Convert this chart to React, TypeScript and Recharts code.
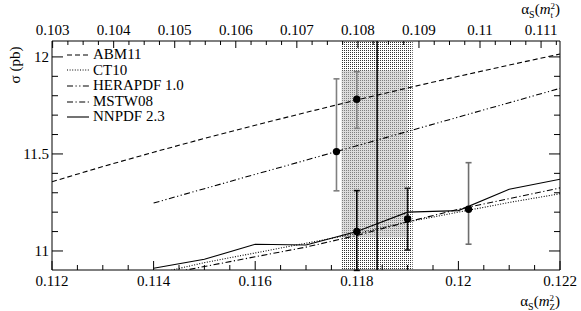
import React from 'react';
import {
  ComposedChart,
  Line,
  Scatter,
  XAxis,
  YAxis,
  ErrorBar,
  ReferenceArea,
  ReferenceLine,
  Legend,
} from 'recharts';

const FONT = '"Liberation Serif", "Times New Roman", serif';

// alpha_s(mZ^2) sampling points of the curves
const alphaFull = [0.112, 0.113, 0.114, 0.115, 0.116, 0.117, 0.118, 0.119, 0.12, 0.121, 0.122];
const alphaFrom114 = [0.114, 0.115, 0.116, 0.117, 0.118, 0.119, 0.12, 0.121, 0.122];

// sigma (pb) of each PDF set
const abm11 = [11.357, 11.435, 11.509, 11.58, 11.648, 11.714, 11.778, 11.84, 11.9, 11.958, 12.015];
const ct10 = [10.88, 10.94, 10.99, 11.04, 11.09, 11.15, 11.2, 11.25, 11.295];
const herapdf10 = [11.247, 11.321, 11.395, 11.468, 11.542, 11.616, 11.69, 11.764, 11.838];
const mstw08 = [10.87, 10.92, 10.97, 11.02, 11.08, 11.15, 11.215, 11.27, 11.325];
const nnpdf23 = [10.911, 10.957, 11.035, 11.031, 11.1, 11.2, 11.208, 11.318, 11.37];

// central predictions with uncertainties
const pointNames = ['HERAPDF 1.0', 'ABM11', 'CT10', 'NNPDF 2.3', 'MSTW08'];
const pointAlpha = [0.1176, 0.118, 0.118, 0.119, 0.1202];
const pointSigma = [11.512, 11.782, 11.1, 11.165, 11.215];
const pointLow = [11.31, 11.632, 10.9, 11.005, 11.035];
const pointHigh = [11.887, 11.924, 11.311, 11.323, 11.455];

// world average band
const bandLow = 0.1177;
const bandHigh = 0.1191;
const bandCentre = 0.1184;
const bandInnerLow = 11.07;
const bandInnerHigh = 11.93;

// axes
const bottomDomain = [0.112, 0.122];
const topDomain = [0.10299, 0.11131];
const yDomain = [10.902, 12.082];
const bottomMajorTicks = [0.112, 0.114, 0.116, 0.118, 0.12, 0.122];
const topMajorTicks = [0.103, 0.104, 0.105, 0.106, 0.107, 0.108, 0.109, 0.11, 0.111];
const leftMajorTicks = [11, 11.5, 12];

const seriesNames = ['ABM11', 'CT10', 'HERAPDF 1.0', 'MSTW08', 'NNPDF 2.3'];
const dashes: Record<string, string | undefined> = {
  ABM11: '5 3',
  CT10: '1 1.6',
  'HERAPDF 1.0': '6 2.5 1.2 2.5 1.2 2.5',
  MSTW08: '6 2.5 1.2 2.5',
  'NNPDF 2.3': undefined,
};
const errColours: Record<string, string> = {
  'HERAPDF 1.0': '#808080',
  ABM11: '#808080',
  CT10: '#000',
  'NNPDF 2.3': '#1a1a1a',
  MSTW08: '#6e6e6e',
};

const range = (start: number, stop: number, step: number) => {
  const out: number[] = [];
  const n = Math.round((stop - start) / step);
  for (let i = 0; i <= n; i++) out.push(+(start + i * step).toFixed(6));
  return out;
};
const bottomTicks = range(0.112, 0.122, 0.0005);
const topTicks = range(0.103, 0.11125, 0.00025);
const leftTicks = range(11, 12, 0.1);

const toPts = (xs: number[], ys: number[]) => xs.map((a, i) => ({ a, v: ys[i] }));
const seriesData: Record<string, { a: number; v: number }[]> = {
  ABM11: toPts(alphaFull, abm11),
  CT10: toPts(alphaFrom114, ct10),
  'HERAPDF 1.0': toPts(alphaFrom114, herapdf10),
  MSTW08: toPts(alphaFrom114, mstw08),
  'NNPDF 2.3': toPts(alphaFrom114, nnpdf23),
};
// invisible frame helper so the top / right axes get an item
const frameData = toPts(topDomain, yDomain);

const points = pointNames.map((name, i) => ({
  name,
  a: pointAlpha[i],
  v: pointSigma[i],
  err: [pointSigma[i] - pointLow[i], pointHigh[i] - pointSigma[i]],
}));

const fmt = (v: number) => String(parseFloat(v.toFixed(4)));
const isMajor = (v: number, majors: number[]) => majors.some((m) => Math.abs(m - v) < 1e-7);

const textStyle = { fontFamily: FONT, fontSize: 15, fill: '#000' } as const;

const LeftTick = (props: any) => {
  const { x, y, payload } = props;
  const major = isMajor(payload.value, leftMajorTicks);
  return (
    <g>
      <line x1={x} x2={x + (major ? 11 : 6)} y1={y} y2={y} stroke="#000" />
      {major && (
        <text x={x - 3} y={y + 5} textAnchor="end" style={textStyle}>
          {fmt(payload.value)}
        </text>
      )}
    </g>
  );
};
const RightTick = (props: any) => {
  const { x, y, payload } = props;
  const major = isMajor(payload.value, leftMajorTicks);
  return <line x1={x} x2={x - (major ? 11 : 6)} y1={y} y2={y} stroke="#000" />;
};
const BottomTick = (props: any) => {
  const { x, y, payload } = props;
  const major = isMajor(payload.value, bottomMajorTicks);
  return (
    <g>
      <line x1={x} x2={x} y1={y} y2={y - (major ? 9 : 5)} stroke="#000" />
      {major && (
        <text x={x} y={y + 16} textAnchor="middle" style={textStyle}>
          {fmt(payload.value)}
        </text>
      )}
    </g>
  );
};
const TopTick = (props: any) => {
  const { x, y, payload } = props;
  const major = isMajor(payload.value, topMajorTicks);
  return (
    <g>
      <line x1={x} x2={x} y1={y} y2={y + (major ? 7 : 4)} stroke="#000" />
      {major && (
        <text x={x} y={y - 6} textAnchor="middle" style={textStyle}>
          {fmt(payload.value)}
        </text>
      )}
    </g>
  );
};

const Dot = (props: any) => <circle cx={props.cx} cy={props.cy} r={3.7} fill="#000" />;

const LegendContent = (props: any) => {
  const payload = (props.payload || []).filter((p: any) => seriesNames.includes(p.value));
  return (
    <div style={{ fontFamily: FONT, fontSize: 15, color: '#000' }}>
      {payload.map((p: any) => (
        <div key={p.value} style={{ display: 'flex', alignItems: 'center', height: 15.6, lineHeight: '15.6px', whiteSpace: 'nowrap' }}>
          <svg width={22} height={4} style={{ marginRight: 4 }}>
            <line x1={0} x2={22} y1={2} y2={2} stroke="#000" strokeWidth={1.1} strokeDasharray={dashes[p.value]} />
          </svg>
          <span>{p.value}</span>
        </div>
      ))}
    </div>
  );
};

const Stack = ({ sup, sub }: { sup: string; sub: string }) => (
  <span style={{ display: 'inline-block', fontSize: 9, lineHeight: '9px', verticalAlign: 'middle', textAlign: 'left' }}>
    <span style={{ display: 'block' }}>{sup}</span>
    <span style={{ display: 'block' }}>{sub}</span>
  </span>
);

const AlphaTitle = ({ scale }: { scale: string }) => (
  <span>
    α<span style={{ fontSize: 10, position: 'relative', top: 4 }}>S</span>(<i>m</i>
    <Stack sup="2" sub={scale} />)
  </span>
);

export default function App() {
  return (
    <div style={{ position: 'absolute', left: 0, top: 0, width: 581, height: 311, background: '#fff' }}>
      <ComposedChart width={581} height={311} margin={{ top: 40, left: 51, right: 20, bottom: 40 }}>
        <defs>
          <pattern id="dots" width="2" height="2" patternUnits="userSpaceOnUse">
            <rect x="0" y="0" width="1" height="1" fill="#000" />
          </pattern>
        </defs>
        <XAxis
          xAxisId="bottom"
          dataKey="a"
          type="number"
          orientation="bottom"
          domain={bottomDomain}
          allowDataOverflow
          ticks={bottomTicks}
          interval={0}
          height={1}
          tickSize={0}
          tickMargin={0}
          tickLine={false}
          tick={<BottomTick />}
          axisLine={{ stroke: '#000' }}
        />
        <XAxis
          xAxisId="top"
          dataKey="a"
          type="number"
          orientation="top"
          domain={topDomain}
          allowDataOverflow
          ticks={topTicks}
          interval={0}
          height={1}
          tickSize={0}
          tickMargin={0}
          tickLine={false}
          tick={<TopTick />}
          axisLine={{ stroke: '#000' }}
        />
        <YAxis
          yAxisId="left"
          type="number"
          orientation="left"
          domain={yDomain}
          allowDataOverflow
          ticks={leftTicks}
          interval={0}
          width={1}
          tickSize={0}
          tickMargin={0}
          tickLine={false}
          tick={<LeftTick />}
          axisLine={{ stroke: '#000' }}
        />
        <YAxis
          yAxisId="right"
          type="number"
          orientation="right"
          domain={yDomain}
          allowDataOverflow
          ticks={leftTicks}
          interval={0}
          width={1}
          tickSize={0}
          tickMargin={0}
          tickLine={false}
          tick={<RightTick />}
          axisLine={{ stroke: '#000' }}
        />
        <ReferenceArea xAxisId="bottom" yAxisId="left" x1={bandLow} x2={bandHigh} fill="url(#dots)" fillOpacity={0.8} stroke="none" />
        <ReferenceArea
          xAxisId="bottom"
          yAxisId="left"
          x1={bandLow}
          x2={bandHigh - 0.0001}
          y1={bandInnerLow}
          y2={bandInnerHigh}
          fill="#c0c0c0"
          fillOpacity={0.55}
          stroke="none"
        />
        <ReferenceLine xAxisId="bottom" yAxisId="left" x={bandCentre} stroke="#000" strokeWidth={1.5} />
        <Line
          xAxisId="top"
          yAxisId="right"
          data={frameData}
          dataKey="v"
          name="frame"
          legendType="none"
          stroke="none"
          strokeOpacity={0}
          dot={false}
          activeDot={false}
          isAnimationActive={false}
        />
        {seriesNames.map((name) => (
          <Line
            key={name}
            xAxisId="bottom"
            yAxisId="left"
            data={seriesData[name]}
            dataKey="v"
            name={name}
            type="linear"
            stroke="#000"
            strokeWidth={1.1}
            strokeDasharray={dashes[name]}
            dot={false}
            activeDot={false}
            isAnimationActive={false}
          />
        ))}
        {points.map((p) => (
          <Scatter
            key={'pt-' + p.name}
            xAxisId="bottom"
            yAxisId="left"
            data={[p]}
            dataKey="v"
            name={'pt-' + p.name}
            legendType="none"
            shape={<Dot />}
            isAnimationActive={false}
          >
            <ErrorBar dataKey="err" direction="y" width={3} stroke={errColours[p.name]} strokeWidth={1.6} isAnimationActive={false} />
          </Scatter>
        ))}
        <Legend
          layout="vertical"
          align="center"
          verticalAlign="middle"
          content={<LegendContent />}
          wrapperStyle={{ left: 67, top: 47, width: 'auto', height: 'auto' }}
        />
      </ComposedChart>
      <div
        style={{
          position: 'absolute',
          left: -20,
          top: 56,
          width: 70,
          textAlign: 'center',
          fontFamily: FONT,
          fontSize: 15,
          lineHeight: '18px',
          transform: 'rotate(-90deg)',
          transformOrigin: 'center',
        }}
      >
        σ (pb)
      </div>
      <div style={{ position: 'absolute', right: 21, top: 0, fontFamily: FONT, fontSize: 15, lineHeight: '18px' }}>
        <AlphaTitle scale="t" />
      </div>
      <div style={{ position: 'absolute', right: 21, top: 292, fontFamily: FONT, fontSize: 15, lineHeight: '18px' }}>
        <AlphaTitle scale="Z" />
      </div>
    </div>
  );
}
